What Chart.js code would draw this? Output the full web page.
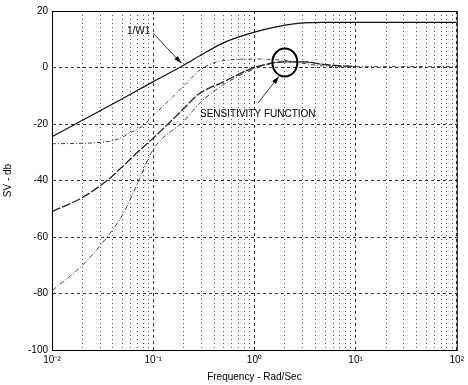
<!DOCTYPE html>
<html>
<head>
<meta charset="utf-8">
<script src="https://cdn.jsdelivr.net/npm/chart.js@4/dist/chart.umd.min.js"></script>
<style>
  html, body { margin: 0; padding: 0; background: #fff; }
  #wrap { width: 468px; height: 385px; }
</style>
</head>
<body>
<div id="wrap"><canvas id="myChart" width="468" height="385"></canvas></div>
<script>
// données (dB en fonction de la fréquence rad/s)
const freqW1 = [0.01, 0.02, 0.05, 0.1, 0.2, 0.3, 0.5, 1, 2, 3, 5, 10, 100];
const dbW1 = [-24.5, -18.7, -11, -5, 0.8, 4.5, 8.8, 12.5, 15, 15.8, 16, 16, 16];

const freqA = [0.01, 0.03, 0.045, 0.06, 0.08, 0.1, 0.15, 0.2, 0.3, 0.5, 1, 2, 3, 5, 10, 100];
const dbA = [-27, -26.5, -25.3, -23, -20.5, -17, -11, -6.5, -0.5, 2.5, 3, 2.5, 1.5, 0.5, 0.3, 0.3];

const freqS = [0.01, 0.02, 0.035, 0.05, 0.07, 0.1, 0.14, 0.2, 0.28, 0.5, 1, 2, 3, 5, 10];
const dbS = [-51, -46, -40, -35, -30, -25, -20, -14.6, -9.5, -5, 0, 2, 2, 1, 0.3];

const freqB = [0.01, 0.02, 0.03, 0.05, 0.07, 0.1, 0.2, 0.3, 0.5, 1, 2, 3, 5, 10];
const dbB = [-79, -70, -63, -52, -41, -29, -19, -12, -6, -0.5, 2, 2, 1, 0.3];

const yTicks = [-100, -80, -60, -40, -20, 0, 20];
const supers = { "-2": "⁻²", "-1": "⁻¹", "0": "⁰", "1": "¹", "2": "²" };

const toPts = (f, d) => f.map((v, i) => ({ x: v, y: d[i] }));

// est-ce une puissance de dix ?
const isMajor = (v) => Math.abs(Math.log10(v) - Math.round(Math.log10(v))) < 1e-9;

// annotations : cadre, cercle, flèches, textes
const annotations = {
  id: "annotations",
  afterDraw(chart) {
    const ctx = chart.ctx;
    const xs = chart.scales.x;
    const ys = chart.scales.y;
    const a = chart.chartArea;
    ctx.save();
    ctx.strokeStyle = "#000";
    ctx.lineWidth = 1;
    ctx.strokeRect(a.left + 0.5, a.top + 0.5, a.right - a.left, a.bottom - a.top);

    // cercle autour du pic
    const cx = xs.getPixelForValue(2.0);
    const cy = ys.getPixelForValue(1.8);
    ctx.lineWidth = 2;
    ctx.beginPath();
    ctx.ellipse(cx, cy, 12.5, 14, 0, 0, Math.PI * 2);
    ctx.stroke();

    const arrow = (x1, y1, x2, y2) => {
      ctx.lineWidth = 0.8;
      ctx.beginPath();
      ctx.moveTo(x1, y1);
      ctx.lineTo(x2, y2);
      ctx.stroke();
      const ang = Math.atan2(y2 - y1, x2 - x1);
      ctx.beginPath();
      ctx.moveTo(x2, y2);
      ctx.lineTo(x2 - 8 * Math.cos(ang - 0.3), y2 - 8 * Math.sin(ang - 0.3));
      ctx.lineTo(x2 - 8 * Math.cos(ang + 0.3), y2 - 8 * Math.sin(ang + 0.3));
      ctx.closePath();
      ctx.fill();
    };
    ctx.fillStyle = "#000";
    arrow(153, 33, xs.getPixelForValue(0.19), ys.getPixelForValue(1.5));
    arrow(258, 103, cx - 6, cy + 14);

    ctx.font = "10px 'Liberation Sans', Arial, sans-serif";
    ctx.textBaseline = "middle";
    ctx.textAlign = "left";
    ctx.fillText("1/W1", 127, 31);
    ctx.fillText("SENSITIVITY FUNCTION", 200, 114);
    ctx.restore();
  },
};

const ctx = document.getElementById("myChart");
const chart = new Chart(ctx, {
  type: "scatter",
  data: {
    datasets: [
      { label: "1/W1", data: toPts(freqW1, dbW1), borderColor: "#111", borderWidth: 1.2 },
      { label: "A", data: toPts(freqA, dbA), borderColor: "#444", borderWidth: 1, borderDash: [4, 2, 1, 2] },
      { label: "S", data: toPts(freqS, dbS), borderColor: "#222", borderWidth: 1.3, borderDash: [9, 2] },
      { label: "B", data: toPts(freqB, dbB), borderColor: "#444", borderWidth: 1, borderDash: [5, 2, 1, 2] },
    ].map((d) => Object.assign(d, { showLine: true, pointRadius: 0, cubicInterpolationMode: "monotone", fill: false })),
  },
  options: {
    responsive: false,
    animation: false,
    events: [],
    layout: { padding: { top: 11, right: 8, left: 0, bottom: 0 } },
    plugins: { legend: { display: false }, tooltip: { enabled: false } },
    scales: {
      x: {
        type: "logarithmic",
        min: 0.01,
        max: 100,
        afterBuildTicks: (scale) => {
          const t = [];
          for (let e = -2; e < 2; e++) {
            for (let k = 1; k < 10; k++) t.push({ value: k * Math.pow(10, e) });
          }
          t.push({ value: 100 });
          scale.ticks = t;
        },
        afterFit: (scale) => { scale.height = 35; },
        ticks: {
          autoSkip: false,
          maxRotation: 0,
          color: "#000",
          padding: 4,
          font: { family: "'Liberation Sans', Arial, sans-serif", size: 10 },
          callback: (v) => {
            if (!isMajor(v)) return "";
            const e = Math.round(Math.log10(v));
            return "10" + supers[String(e)];
          },
        },
        grid: {
          drawTicks: false,
          color: (c) => (c.tick && isMajor(c.tick.value) ? "#333" : "#555"),
          lineWidth: 1,
        },
        border: {
          color: "#000",
          dash: (c) => (c.tick && isMajor(c.tick.value) ? [3, 3] : [1, 3]),
        },
        title: {
          display: true,
          text: "Frequency - Rad/Sec",
          color: "#000",
          padding: { top: 0, bottom: 2 },
          font: { family: "'Liberation Sans', Arial, sans-serif", size: 10 },
        },
      },
      y: {
        min: -100,
        max: 20,
        afterBuildTicks: (scale) => {
          scale.ticks = yTicks.map((v) => ({ value: v }));
        },
        afterFit: (scale) => { scale.width = 52; },
        ticks: {
          color: "#000",
          padding: 4,
          font: { family: "'Liberation Sans', Arial, sans-serif", size: 10 },
        },
        grid: { drawTicks: false, color: "#333", lineWidth: 1 },
        border: { color: "#000", dash: [3, 3] },
        title: {
          display: true,
          text: "SV - db",
          color: "#000",
          padding: { top: 2, bottom: 0 },
          font: { family: "'Liberation Sans', Arial, sans-serif", size: 10 },
        },
      },
    },
  },
  plugins: [annotations],
});
</script>
</body>
</html>
